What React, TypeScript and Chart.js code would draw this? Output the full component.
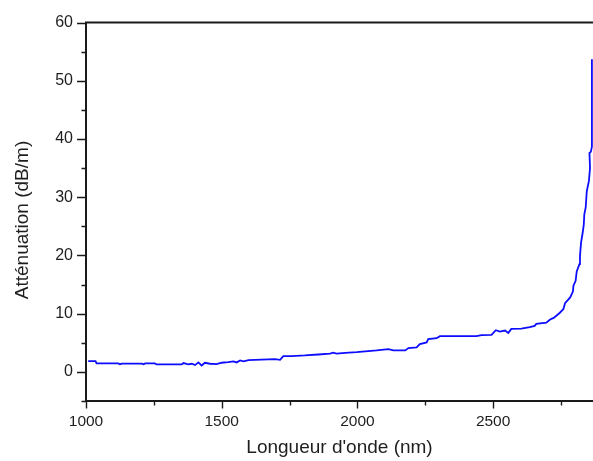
import React, { useEffect, useRef } from "react";
import { Chart, registerables } from "chart.js";

Chart.register(...registerables);

const WAVELENGTH = [
  1008, 1035, 1039, 1119, 1125, 1131, 1206, 1212, 1218, 1254, 1260, 1353, 1359, 1377, 1390, 1402,
  1414, 1426, 1438, 1457, 1481, 1500, 1524, 1543, 1555, 1568, 1580, 1599, 1622, 1696, 1715, 1727,
  1758, 1806, 1856, 1899, 1911, 1923, 1955, 1997, 2071, 2114, 2133, 2176, 2188, 2218, 2230, 2255,
  2261, 2292, 2304, 2439, 2457, 2494, 2510, 2525, 2544, 2556, 2567, 2604, 2635, 2653, 2659, 2696,
  2710, 2723, 2745, 2759, 2765, 2784, 2794, 2796, 2804, 2808, 2818, 2820, 2824, 2830, 2834, 2836,
  2841, 2845, 2853, 2857, 2855, 2860, 2864, 2864,
];
const ATTENUATION = [
  1.85, 1.85, 1.45, 1.45, 1.3, 1.42, 1.42, 1.3, 1.45, 1.45, 1.28, 1.28, 1.51, 1.28, 1.4, 1.17,
  1.63, 1.11, 1.57, 1.4, 1.34, 1.57, 1.68, 1.8, 1.63, 1.97, 1.8, 2.02, 2.08, 2.19, 2.08, 2.71,
  2.71, 2.82, 2.99, 3.15, 3.3, 3.15, 3.28, 3.39, 3.68, 3.91, 3.68, 3.68, 4.08, 4.19, 4.76, 5.05,
  5.62, 5.79, 6.13, 6.13, 6.3, 6.36, 7.16, 6.93, 7.1, 6.7, 7.38, 7.44, 7.67, 7.9, 8.24, 8.47,
  9.0, 9.27, 10.12, 10.8, 11.8, 12.8, 13.8, 14.8, 15.65, 17.25, 18.5, 19.9, 22.2, 23.9, 25.3, 27.05,
  28.2, 31.0, 32.8, 35.0, 37.6, 37.8, 38.7, 53.7,
];

const X_MAJOR = [1000, 1500, 2000, 2500];
const X_MINOR = [1250, 1750, 2250, 2750];
const Y_MAJOR = [0, 10, 20, 30, 40, 50, 60];
const Y_MINOR = [-5, 5, 15, 25, 35, 45, 55];

const X_TITLE = "Longueur d'onde (nm)";
const Y_TITLE = "Atténuation (dB/m)";

const FONT = 'Arial, "Liberation Sans", sans-serif';
const AXIS_COLOR = "#1a1a1a";
const TEXT_COLOR = "#1e1e1e";

const framePlugin = {
  id: "frame",
  afterDatasetsDraw(chart: any) {
    const { ctx, chartArea } = chart;
    const { left, right, top, bottom } = chartArea;
    const xs = chart.scales.x;
    const ys = chart.scales.y;
    ctx.save();
    ctx.strokeStyle = AXIS_COLOR;
    ctx.lineWidth = 1.4;
    ctx.beginPath();
    Y_MAJOR.forEach((v) => {
      const p = Math.round(ys.getPixelForValue(v)) + 0.5;
      ctx.moveTo(left - 9, p);
      ctx.lineTo(left, p);
    });
    Y_MINOR.forEach((v) => {
      const p = Math.round(ys.getPixelForValue(v)) + 0.5;
      ctx.moveTo(left - 4.5, p);
      ctx.lineTo(left, p);
    });
    X_MAJOR.forEach((v) => {
      const p = Math.round(xs.getPixelForValue(v)) + 0.5;
      ctx.moveTo(p, bottom);
      ctx.lineTo(p, bottom + 7.5);
    });
    X_MINOR.forEach((v) => {
      const p = Math.round(xs.getPixelForValue(v)) + 0.5;
      ctx.moveTo(p, bottom);
      ctx.lineTo(p, bottom + 4.5);
    });
    ctx.stroke();
    ctx.lineWidth = 2;
    ctx.beginPath();
    ctx.moveTo(left, top);
    ctx.lineTo(left, bottom + 1);
    ctx.moveTo(left - 1, bottom);
    ctx.lineTo(right + 2, bottom);
    ctx.moveTo(left - 1, top);
    ctx.lineTo(right + 2, top);
    ctx.stroke();

    // y-axis title
    ctx.fillStyle = TEXT_COLOR;
    ctx.font = `19px ${FONT}`;
    ctx.textAlign = "center";
    ctx.textBaseline = "middle";
    ctx.translate(23, 220);
    ctx.rotate(-Math.PI / 2);
    ctx.fillText(Y_TITLE, 0, 0);
    ctx.restore();
  },
};

export default function App() {
  const ref = useRef<HTMLCanvasElement>(null);
  useEffect(() => {
    document.body.style.margin = "0";
    const canvas = ref.current!;
    const data = WAVELENGTH.map((x, i) => ({ x, y: ATTENUATION[i] }));
    const chart = new Chart(canvas, {
      type: "scatter",
      data: {
        datasets: [
          {
            data,
            showLine: true,
            borderColor: "#0d0dff",
            borderWidth: 1.8,
            pointRadius: 0,
            tension: 0,
            fill: false,
          },
        ],
      },
      options: {
        responsive: false,
        animation: false,
        events: [],
        layout: { padding: { top: 20, right: 0, left: 0, bottom: 0 } },
        plugins: { legend: { display: false }, tooltip: { enabled: false } },
        scales: {
          x: {
            type: "linear",
            min: 1000,
            max: 2868,
            grid: { display: false, drawTicks: false },
            border: { display: false },
            afterFit: (s: any) => {
              s.height = 60;
            },
            afterBuildTicks: (s: any) => {
              s.ticks = X_MAJOR.map((v) => ({ value: v }));
            },
            ticks: {
              padding: 11,
              color: TEXT_COLOR,
              font: { family: FONT, size: 15.5 },
              maxRotation: 0,
              callback: (v: any) => String(v),
            },
            title: {
              display: true,
              text: X_TITLE,
              color: TEXT_COLOR,
              font: { family: FONT, size: 19 },
              padding: { top: 2, bottom: 2 },
            },
          },
          y: {
            type: "linear",
            min: -5,
            max: 60,
            grid: { display: false, drawTicks: false },
            border: { display: false },
            afterFit: (s: any) => {
              s.width = 86;
            },
            afterBuildTicks: (s: any) => {
              s.ticks = Y_MAJOR.map((v) => ({ value: v }));
            },
            ticks: {
              padding: 13,
              color: TEXT_COLOR,
              font: { family: FONT, size: 16 },
              callback: (v: any) => String(v),
            },
            title: { display: false },
          },
        },
      },
      plugins: [framePlugin],
    });
    return () => chart.destroy();
  }, []);
  return (
    <div style={{ position: "fixed", left: 0, top: 0, width: 593, height: 461, overflow: "hidden", background: "#fff" }}>
      <canvas ref={ref} width={593} height={461} style={{ display: "block" }} />
    </div>
  );
}
